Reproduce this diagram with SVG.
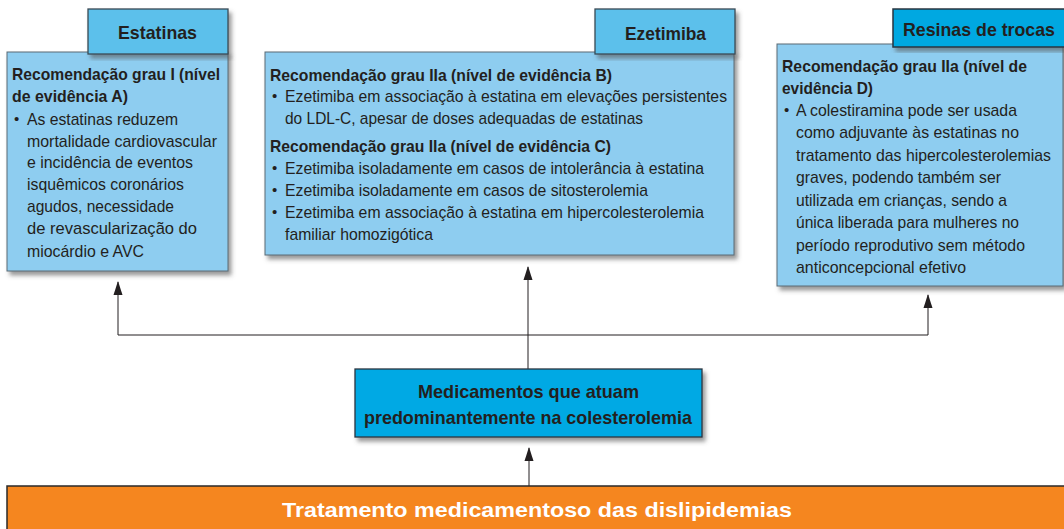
<svg xmlns="http://www.w3.org/2000/svg" width="1064" height="529" viewBox="0 0 1064 529">
<style>
text{font-family:"Liberation Sans Narrow","Liberation Sans",Arial,sans-serif;fill:#231F20}
.b{font-weight:bold}
.t{font-size:17px}
.h{font-size:19px;font-weight:bold}
.main{fill:#8ECDF0;stroke:#5a6a75;stroke-width:1}
.hdr{fill:#5BC0EB;stroke:#3a4a55;stroke-width:1.3}
.hdr2{fill:#00A8E1;stroke:#2a3540;stroke-width:1.5}
.ctr{fill:#00A9E4;stroke:#2a3540;stroke-width:1.3}
.ln{stroke:#231F20;stroke-width:1;fill:none}
.bul{font-size:15px}
</style>
<defs>
<filter id="sh" x="-5%" y="-5%" width="115%" height="120%">
<feDropShadow dx="3" dy="4" stdDeviation="2" flood-color="#555" flood-opacity="0.6"/>
</filter>
<marker id="ar" markerUnits="userSpaceOnUse" markerWidth="14" markerHeight="10" refX="13" refY="5" orient="auto" viewBox="0 0 14 10">
<path d="M14,5 L0,0.5 L0,9.5 Z" fill="#231F20"/>
</marker>
</defs>

<g id="connectors">
<path class="ln" d="M118,335 H928"/>
<path class="ln" d="M118,335 V282" marker-end="url(#ar)"/>
<path class="ln" d="M928,335 V295" marker-end="url(#ar)"/>
<path class="ln" d="M528,369 V267" marker-end="url(#ar)"/>
<path class="ln" d="M529,486 V448" marker-end="url(#ar)"/>
</g>

<g id="estatinas">
<rect class="main" x="7" y="52" width="221" height="219" filter="url(#sh)"/>
<rect class="hdr" x="88" y="9" width="140" height="45" filter="url(#sh)"/>
<text class="h" x="118" y="39" textLength="79" lengthAdjust="spacingAndGlyphs">Estatinas</text>
<text class="t b" x="12" y="80" textLength="208" lengthAdjust="spacingAndGlyphs">Recomendação grau I (nível</text>
<text class="t b" x="12" y="102" textLength="116" lengthAdjust="spacingAndGlyphs">de evidência A)</text>
<text class="bul" x="14" y="124">•</text>
<text class="t" x="27" y="125" textLength="151" lengthAdjust="spacingAndGlyphs">As estatinas reduzem</text>
<text class="t" x="27" y="147" textLength="190" lengthAdjust="spacingAndGlyphs">mortalidade cardiovascular</text>
<text class="t" x="27" y="168" textLength="166" lengthAdjust="spacingAndGlyphs">e incidência de eventos</text>
<text class="t" x="27" y="190" textLength="157" lengthAdjust="spacingAndGlyphs">isquêmicos coronários</text>
<text class="t" x="27" y="212" textLength="147" lengthAdjust="spacingAndGlyphs">agudos, necessidade</text>
<text class="t" x="27" y="234" textLength="170" lengthAdjust="spacingAndGlyphs">de revascularização do</text>
<text class="t" x="27" y="257" textLength="117" lengthAdjust="spacingAndGlyphs">miocárdio e AVC</text>
</g>

<g id="ezetimiba">
<rect class="main" x="265" y="52" width="469" height="203" filter="url(#sh)"/>
<rect class="hdr" x="595" y="9" width="140" height="45" filter="url(#sh)"/>
<text class="h" x="625" y="40" textLength="81" lengthAdjust="spacingAndGlyphs">Ezetimiba</text>
<text class="t b" x="270" y="81" textLength="342" lengthAdjust="spacingAndGlyphs">Recomendação grau IIa (nível de evidência B)</text>
<text class="bul" x="272" y="101">•</text>
<text class="t" x="285" y="102" textLength="442" lengthAdjust="spacingAndGlyphs">Ezetimiba em associação à estatina em elevações persistentes</text>
<text class="t" x="285" y="124" textLength="358" lengthAdjust="spacingAndGlyphs">do LDL-C, apesar de doses adequadas de estatinas</text>
<text class="t b" x="270" y="152" textLength="341" lengthAdjust="spacingAndGlyphs">Recomendação grau IIa (nível de evidência C)</text>
<text class="bul" x="272" y="173">•</text>
<text class="t" x="285" y="174" textLength="419" lengthAdjust="spacingAndGlyphs">Ezetimiba isoladamente em casos de intolerância à estatina</text>
<text class="bul" x="272" y="195">•</text>
<text class="t" x="285" y="196" textLength="363" lengthAdjust="spacingAndGlyphs">Ezetimiba isoladamente em casos de sitosterolemia</text>
<text class="bul" x="272" y="217">•</text>
<text class="t" x="285" y="218" textLength="419" lengthAdjust="spacingAndGlyphs">Ezetimiba em associação à estatina em hipercolesterolemia</text>
<text class="t" x="285" y="240" textLength="148" lengthAdjust="spacingAndGlyphs">familiar homozigótica</text>
</g>

<g id="resinas">
<rect class="main" x="777" y="44" width="286" height="242" filter="url(#sh)"/>
<rect class="hdr2" x="893" y="9" width="180" height="38" filter="url(#sh)"/>
<text class="h" x="903" y="36" textLength="152" lengthAdjust="spacingAndGlyphs">Resinas de trocas</text>
<text class="t b" x="782" y="72" textLength="245" lengthAdjust="spacingAndGlyphs">Recomendação grau IIa (nível de</text>
<text class="t b" x="782" y="94" textLength="91" lengthAdjust="spacingAndGlyphs">evidência D)</text>
<text class="bul" x="784" y="115">•</text>
<text class="t" x="796" y="116" textLength="221" lengthAdjust="spacingAndGlyphs">A colestiramina pode ser usada</text>
<text class="t" x="796" y="138" textLength="223" lengthAdjust="spacingAndGlyphs">como adjuvante às estatinas no</text>
<text class="t" x="796" y="161" textLength="255" lengthAdjust="spacingAndGlyphs">tratamento das hipercolesterolemias</text>
<text class="t" x="796" y="183" textLength="205" lengthAdjust="spacingAndGlyphs">graves, podendo também ser</text>
<text class="t" x="796" y="206" textLength="211" lengthAdjust="spacingAndGlyphs">utilizada em crianças, sendo a</text>
<text class="t" x="796" y="228" textLength="223" lengthAdjust="spacingAndGlyphs">única liberada para mulheres no</text>
<text class="t" x="796" y="251" textLength="229" lengthAdjust="spacingAndGlyphs">período reprodutivo sem método</text>
<text class="t" x="796" y="273" textLength="170" lengthAdjust="spacingAndGlyphs">anticoncepcional efetivo</text>
</g>

<g id="medicamentos">
<rect class="ctr" x="355" y="369" width="347" height="68" filter="url(#sh)"/>
<text class="h" x="418" y="398" textLength="221" lengthAdjust="spacingAndGlyphs">Medicamentos que atuam</text>
<text class="h" x="364" y="424" textLength="328" lengthAdjust="spacingAndGlyphs">predominantemente na colesterolemia</text>
</g>

<g id="tratamento">
<rect x="7" y="486" width="1065" height="50" fill="#F5861F" stroke="#2a2a2a" stroke-width="1.5"/>
<text x="282" y="517" style="font-size:20px;font-weight:bold;fill:#ffffff" textLength="510" lengthAdjust="spacingAndGlyphs">Tratamento medicamentoso das dislipidemias</text>
</g>
</svg>
